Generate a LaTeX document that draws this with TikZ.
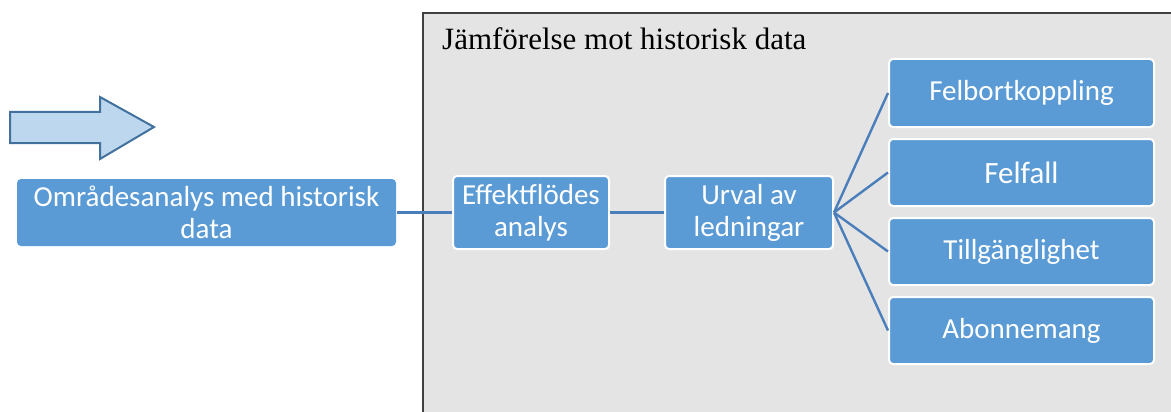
\documentclass[tikz,border=0pt]{standalone}
\usepackage{fontspec}
\setmainfont{Liberation Serif}
\newfontfamily\boxfont{Carlito}
\begin{document}
\begin{tikzpicture}[x=1pt,y=-1pt,
  blockbox/.style={draw=white,line width=2pt,fill=boxblue,rounded corners=4pt,
    text=white,font=\boxfont\fontsize{29}{32}\selectfont,align=center,
    inner sep=0pt,anchor=north west},
  link/.style={draw=linkblue,line width=2.4pt}]
\definecolor{boxblue}{HTML}{5B9BD5}
\definecolor{linkblue}{HTML}{4A7EBB}
\definecolor{arrowfill}{HTML}{BDD7EE}
\definecolor{arrowline}{HTML}{41719C}
\definecolor{panelfill}{HTML}{E4E4E4}
\definecolor{panelline}{HTML}{404040}
\useasboundingbox (0,0) rectangle (1171,412);
% grey panel, running off the right and bottom edges
\fill[panelfill] (423,13) rectangle (1175,416);
\draw[panelline,line width=2pt] (423,416) -- (423,13) -- (1175,13);
\node[anchor=base west,font=\fontsize{31}{34}\selectfont,inner sep=0pt]
  (title) at (442,50) {Jämförelse mot historisk data};
% block arrow
\draw[arrowline,fill=arrowfill,line width=2pt,line join=miter]
  (10,112) -- (100,112) -- (100,97) -- (154,127) -- (100,159) -- (100,143)
  -- (10,143) -- cycle;
% blocks
\node[blockbox,draw=none,minimum width=379pt,minimum height=67pt] (omr) at (16,178)
  {Områdesanalys med historisk\\data};
\node[blockbox,minimum width=156pt,minimum height=73pt] (eff) at (452,175)
  {Effektflödes\\analys};
\node[blockbox,minimum width=168pt,minimum height=73pt] (urv) at (664,175)
  {Urval av\\ledningar};
\node[blockbox,minimum width=265pt,minimum height=68pt] (fb) at (888,58) {Felbortkoppling};
\node[blockbox,minimum width=265pt,minimum height=67pt,
  font=\boxfont\fontsize{31}{34}\selectfont] (ff) at (888,138) {Felfall};
\node[blockbox,minimum width=265pt,minimum height=67pt] (tg) at (888,217) {Tillgänglighet};
\node[blockbox,minimum width=265pt,minimum height=67pt] (ab) at (888,296) {Abonnemang};
% connectors
\draw[link] (omr.east) -- (eff.west);
\draw[link] (eff.east) -- (urv.west);
\foreach \t in {fb,ff,tg,ab}{\draw[link] (urv.east) -- (\t.west);}
\end{tikzpicture}
\end{document}
